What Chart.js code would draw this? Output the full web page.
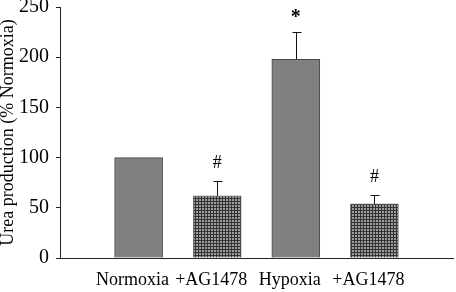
<!DOCTYPE html>
<html>
<head>
<meta charset="utf-8">
<script src="https://cdn.jsdelivr.net/npm/chart.js@4/dist/chart.umd.min.js"></script>
<style>
  html, body { margin: 0; padding: 0; background: #fff; }
  #wrap { width: 456px; height: 292px; position: relative; }
</style>
</head>
<body>
<div id="wrap"><canvas id="c" width="456" height="292"></canvas></div>
<script>
// ---- data ----
const categories = ['', 'Normoxia', '+AG1478', 'Hypoxia', '+AG1478', ''];
const values = [null, 100, 62, 198, 54, null];
const errors = [null, 0, 15, 27, 9, null];
const marks = ['', '', '#', '*', '#', ''];
const hatched = [false, false, true, false, true, false];
const yTicks = [0, 50, 100, 150, 200, 250];

const FONT = "'Liberation Serif', 'Times New Roman', serif";

function makePattern() {
  const t = document.createElement('canvas');
  t.width = 3; t.height = 3;
  const g = t.getContext('2d');
  g.fillStyle = '#9c9c9c';
  g.fillRect(0, 0, 3, 3);
  g.fillStyle = '#333333';
  g.fillRect(0, 0, 3, 1);
  g.fillRect(0, 0, 1, 3);
  return document.getElementById('c').getContext('2d').createPattern(t, 'repeat');
}
const pattern = makePattern();

const errorPlugin = {
  id: 'errorBars',
  afterDatasetsDraw(chart) {
    const ctx = chart.ctx;
    const meta = chart.getDatasetMeta(0);
    const y = chart.scales.y;
    ctx.save();
    meta.data.forEach((bar, i) => {
      if (values[i] == null) return;
      let topY = bar.y;
      if (errors[i]) {
        topY = y.getPixelForValue(values[i] + errors[i]);
        ctx.strokeStyle = '#111';
        ctx.lineWidth = 1;
        ctx.beginPath();
        const x = Math.round(bar.x) + 0.5;
        ctx.moveTo(x, bar.y);
        ctx.lineTo(x, Math.round(topY) + 0.5);
        ctx.moveTo(x - 4, Math.round(topY) + 0.5);
        ctx.lineTo(x + 5, Math.round(topY) + 0.5);
        ctx.stroke();
      }
      if (marks[i]) {
        ctx.fillStyle = '#000';
        ctx.textAlign = 'center';
        ctx.textBaseline = 'alphabetic';
        if (marks[i] === '*') {
          ctx.font = 'bold 20px ' + FONT;
          ctx.fillText(marks[i], bar.x, topY - 9);
        } else {
          ctx.font = '18px ' + FONT;
          ctx.fillText(marks[i], bar.x, topY - 13);
        }
      }
    });
    ctx.restore();
  }
};

new Chart(document.getElementById('c'), {
  type: 'bar',
  data: {
    labels: categories,
    datasets: [{
      data: values,
      backgroundColor: hatched.map(h => h ? pattern : '#808080'),
      borderColor: hatched.map(h => h ? '#6a6a6a' : '#4a4a4a'),
      borderWidth: 1,
      borderSkipped: 'bottom',
      barThickness: 48
    }]
  },
  options: {
    responsive: false,
    animation: false,
    events: [],
    layout: { padding: { top: 7, right: 3, left: 0, bottom: 0 } },
    plugins: { legend: { display: false }, tooltip: { enabled: false } },
    scales: {
      x: {
        offset: false,
        grid: { display: false, drawTicks: false },
        border: { display: true, color: '#222', width: 1 },
        ticks: {
          color: '#000',
          font: { family: FONT, size: 18 },
          padding: 11,
          labelOffset: -6,
          autoSkip: false,
          maxRotation: 0
        },
        afterFit: s => { s.height = 34; s.paddingLeft = 0; s.paddingRight = 0; }
      },
      y: {
        min: 0, max: 250,
        afterBuildTicks: s => { s.ticks = yTicks.map(v => ({ value: v })); },
        grid: { display: true, drawOnChartArea: false, drawTicks: true, tickLength: 4, color: '#222' },
        border: { display: true, color: '#222', width: 1 },
        ticks: {
          color: '#000',
          font: { family: FONT, size: 20 },
          padding: 7
        },
        title: {
          display: true,
          text: 'Urea production (% Normoxia)',
          color: '#000',
          font: { family: FONT, size: 18, lineHeight: 1 },
          padding: { top: -1, bottom: 0 }
        },
        afterFit: s => { s.width = 60; s.paddingTop = 0; s.paddingBottom = 0; }
      }
    }
  },
  plugins: [errorPlugin]
});
</script>
</body>
</html>
